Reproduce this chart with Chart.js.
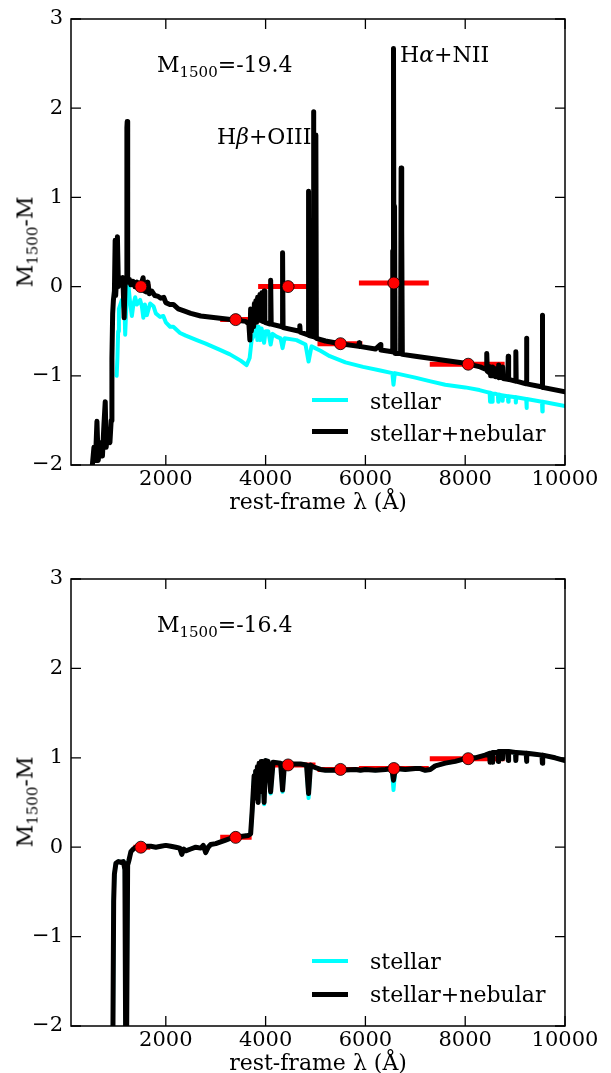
<!DOCTYPE html>
<html><head><meta charset="utf-8">
<script src="https://cdn.jsdelivr.net/npm/chart.js@4.4.1/dist/chart.umd.min.js"></script>
<style>
html,body{margin:0;padding:0;background:#fff;}
#wrap{position:relative;width:611px;height:1073px;overflow:hidden;font-family:"DejaVu Serif",serif;color:#000;}
canvas{position:absolute;left:0;}
.t{position:absolute;white-space:nowrap;font-size:22px;line-height:normal;}
.sub{font-size:15px;position:relative;top:5px;}
.lg{position:absolute;left:312px;width:36px;}
.yl{position:absolute;white-space:nowrap;font-size:22px;line-height:normal;transform:translate(-50%,-50%) rotate(-90deg);}
</style></head><body><div id="wrap">
<canvas id="c1" width="611" height="512" style="top:0px;width:611px;height:512px"></canvas>
<canvas id="c2" width="611" height="561" style="top:512px;width:611px;height:561px"></canvas>

<div class="yl" style="left:25px;top:242px">M<span class="sub">1500</span>-M</div>
<div class="yl" style="left:25px;top:802px">M<span class="sub">1500</span>-M</div>

<div class="t" style="left:157px;top:52px">M<span class="sub">1500</span>=-19.4</div>
<div class="t" style="left:217px;top:124px">H<i>β</i>+OIII</div>
<div class="t" style="left:400px;top:42px">H<i>α</i>+NII</div>
<div class="t" style="left:157px;top:612px">M<span class="sub">1500</span>=-16.4</div>

<div class="lg" style="top:398px;height:4px;background:#00ffff"></div>
<div class="t" style="left:370px;top:389px">stellar</div>
<div class="lg" style="top:429px;height:5px;background:#000"></div>
<div class="t" style="left:370px;top:421px">stellar+nebular</div>

<div class="lg" style="top:959px;height:4px;background:#00ffff"></div>
<div class="t" style="left:370px;top:949px">stellar</div>
<div class="lg" style="top:992px;height:5px;background:#000"></div>
<div class="t" style="left:370px;top:982px">stellar+nebular</div>
</div>
<script>
// ---------- data ----------
const xTickValues = [2000, 4000, 6000, 8000, 10000];
const yTickValues = [-2, -1, 0, 1, 2, 3];

// photometric bands (rest-frame Å)
const bandCenter = [1500, 3400, 4450, 5500, 6570, 8060];
const bandLow    = [1350, 3090, 3850, 5040, 5870, 7290];
const bandHigh   = [1690, 3720, 5000, 5940, 7270, 8790];
const photTop    = [0, -0.37, 0, -0.64, 0.04, -0.87];
const photBottom = [0, 0.11, 0.92, 0.87, 0.88, 0.99];

// top panel, stellar + nebular
const topNebWave = [520,560,590,620,645,690,730,760,786,805,840,880,905,920,935,950,970,985,995,1010,1030,1050,1080,1110,1140,1165,1185,1210,1220,1226,1232,1240,1270,1300,1340,1380,1420,1470,1510,1545,1570,1610,1640,1670,1720,1780,1850,1900,1960,2000,2080,2150,2250,2350,2500,2700,3000,3300,3600,3665,3685,3700,3715,3740,3760,3775,3790,3805,3820,3840,3855,3885,3900,3925,3940,3970,3985,4090,4101,4112,4330,4340,4350,4680,4686,4694,4851,4861,4871,4950,4959,4968,4998,5007,5017,5200,5500,5870,5876,5882,6200,6300,6310,6540,6548,6556,6563,6574,6584,6595,6705,6716,6724,6731,6740,7000,7500,8000,
  8300,8420,8432,8444,8490,8500,8510,8540,8545,8552,8590,8600,8610,8660,8667,8675,8740,8750,8760,8855,8862,8870,9008,9015,9022,9222,9229,9236,9500,9540,9546,9552,10000];
const topNebMag  = [-2.05,-1.8,-1.95,-1.51,-1.95,-1.75,-1.9,-1.55,-1.29,-1.8,-1.6,-1.75,-1.5,-0.8,-0.3,-0.15,-0.05,0.52,-0.1,0.05,0.56,0.0,0.1,0.05,0.1,-0.35,0.05,0.1,1.78,1.85,0.6,0.05,0.08,0.02,0.06,0.0,0.05,0.0,0.03,0.1,-0.05,-0.06,0.05,-0.08,-0.05,-0.1,-0.11,-0.13,-0.12,-0.18,-0.2,-0.2,-0.25,-0.27,-0.3,-0.33,-0.35,-0.37,-0.39,-0.42,-0.6,-0.25,-0.5,-0.3,-0.45,-0.19,-0.4,-0.16,-0.4,-0.12,-0.38,-0.09,-0.38,-0.07,-0.39,-0.05,-0.4,-0.42,0.07,-0.42,-0.45,0.38,-0.46,-0.5,-0.44,-0.51,-0.54,1.07,-0.55,-0.56,1.96,-0.56,-0.57,1.70,-0.58,-0.61,-0.64,-0.67,-0.63,-0.67,-0.7,-0.65,-0.71,-0.73,0.4,-0.7,2.67,-0.74,0.9,-0.75,-0.75,1.33,-0.75,0.63,-0.76,-0.78,-0.82,-0.86,
  -0.9,-0.93,-0.75,-0.95,-0.97,-0.9,-1.0,-0.98,-0.9,-1.0,-0.99,-0.92,-1.01,-1.0,-0.88,-1.02,-1.02,-0.9,-1.03,-1.04,-0.78,-1.04,-1.06,-0.73,-1.06,-1.09,-0.58,-1.09,-1.12,-1.12,-0.32,-1.13,-1.18];

// top panel, stellar only
const topStelWave = [1015,1030,1045,1060,1120,1170,1186,1210,1253,1286,1320,1350,1386,1420,1486,1520,1550,1580,1620,1686,1753,1800,1886,1950,2000,2086,2150,2286,2400,2620,2800,3086,3286,3500,3620,3680,3720,3753,3790,3820,3835,3860,3889,3920,3970,4000,4053,4101,4140,4220,4300,4340,4380,4620,4800,4861,4920,5100,5286,5600,5953,6300,6540,6563,6590,7000,7286,7600,8000,
  8286,8420,8490,8498,8506,8535,8542,8550,8600,8655,8662,8670,8742,8750,8758,8855,8862,8870,9008,9015,9022,9222,9229,9236,9539,9546,9553,10000];
const topStelMag  = [-1.0,-0.8,-0.5,-0.25,-0.15,-0.2,-0.54,-0.2,0.0,-0.19,-0.33,-0.2,-0.12,-0.2,-0.15,-0.22,-0.35,-0.2,-0.32,-0.19,-0.22,-0.3,-0.34,-0.33,-0.4,-0.45,-0.45,-0.52,-0.55,-0.6,-0.64,-0.71,-0.76,-0.83,-0.88,-0.8,-0.6,-0.56,-0.52,-0.45,-0.6,-0.45,-0.6,-0.47,-0.63,-0.5,-0.5,-0.65,-0.53,-0.56,-0.58,-0.69,-0.58,-0.6,-0.65,-0.84,-0.67,-0.72,-0.78,-0.85,-0.9,-0.94,-0.97,-1.1,-0.97,-1.02,-1.06,-1.1,-1.13,
  -1.16,-1.18,-1.19,-1.29,-1.19,-1.2,-1.29,-1.2,-1.2,-1.21,-1.29,-1.21,-1.22,-1.28,-1.22,-1.23,-1.29,-1.23,-1.24,-1.3,-1.24,-1.26,-1.36,-1.26,-1.29,-1.4,-1.29,-1.34];

// bottom panel, stellar + nebular
const botNebWave = [900,940,955,970,1000,1050,1100,1150,1180,1195,1215,1235,1260,1300,1350,1400,1500,1600,1700,1800,1900,2000,2100,2200,2280,2320,2360,2400,2500,2600,2700,2750,2800,2850,2900,3000,3100,3200,3300,3400,3500,3650,3700,3730,3750,3770,3790,3800,3820,3835,3850,3870,3890,3910,3940,3970,4000,4050,4101,4150,4300,4340,4380,4500,4600,4700,4820,4861,4900,4950,5100,5200,5500,5800,5900,6000,6200,6400,6530,6563,6600,6800,7000,7100,7200,7300,7400,7600,7800,8000,8200,8400,
  8490,8498,8506,8535,8542,8550,8655,8662,8670,8742,8750,8758,8855,8862,8870,9008,9015,9022,9222,9229,9236,9400,9539,9546,9553,9800,10000];
const botNebMag  = [-2.1,-2.1,-0.6,-0.3,-0.18,-0.16,-0.17,-0.16,-0.25,-2.1,-2.1,-0.2,-0.15,-0.05,-0.02,0.0,0.0,0.01,0.01,0.0,0.01,0.02,0.01,0.0,-0.01,-0.08,-0.02,-0.04,-0.02,0.0,-0.01,0.02,-0.06,0.0,0.03,0.04,0.06,0.08,0.1,0.11,0.12,0.13,0.15,0.4,0.6,0.8,0.55,0.85,0.6,0.9,0.5,0.94,0.62,0.96,0.96,0.5,0.97,0.96,0.62,0.95,0.94,0.64,0.94,0.93,0.93,0.93,0.92,0.6,0.92,0.9,0.87,0.86,0.86,0.87,0.86,0.87,0.86,0.87,0.88,0.75,0.88,0.87,0.88,0.88,0.86,0.87,0.91,0.94,0.96,0.99,1.0,1.03,
  1.05,0.95,1.05,1.05,0.95,1.06,1.06,0.96,1.07,1.07,0.99,1.07,1.07,0.97,1.07,1.06,0.97,1.06,1.05,0.96,1.05,1.04,1.03,0.94,1.03,1.0,0.97];

// bottom panel, stellar only (deeper Balmer absorption)
const botStelWave = botNebWave;
const botStelMag  = [-2.1,-2.1,-0.6,-0.3,-0.18,-0.16,-0.17,-0.16,-0.25,-2.1,-2.1,-0.2,-0.15,-0.05,-0.02,0.0,0.0,0.01,0.01,0.0,0.01,0.02,0.01,0.0,-0.01,-0.08,-0.02,-0.04,-0.02,0.0,-0.01,0.02,-0.06,0.0,0.03,0.04,0.06,0.08,0.1,0.11,0.12,0.13,0.15,0.4,0.6,0.8,0.55,0.85,0.6,0.9,0.5,0.94,0.62,0.96,0.96,0.48,0.97,0.96,0.6,0.95,0.94,0.62,0.94,0.93,0.93,0.93,0.92,0.55,0.92,0.9,0.87,0.86,0.86,0.87,0.86,0.87,0.86,0.87,0.88,0.64,0.88,0.87,0.88,0.88,0.86,0.87,0.91,0.94,0.96,0.99,1.0,1.03,
  1.05,0.95,1.05,1.05,0.95,1.06,1.06,0.96,1.07,1.07,0.99,1.07,1.07,0.97,1.07,1.06,0.97,1.06,1.05,0.96,1.05,1.04,1.03,0.94,1.03,1.0,0.97];

// ---------- chart helpers ----------
const FONT = '"DejaVu Serif", serif';
function pts(w, m) { return w.map((x, i) => ({x: x, y: m[i]})); }
function bars(phot) {
  const out = [];
  bandCenter.forEach((c, i) => {
    out.push({x: bandLow[i], y: phot[i]});
    out.push({x: bandHigh[i], y: phot[i]});
    out.push({x: bandHigh[i] + 1, y: null});
  });
  return out;
}

const frameTicks = {
  id: 'frameTicks',
  afterDraw(chart) {
    const {ctx, chartArea: a} = chart;
    const xs = chart.scales.x, ys = chart.scales.y;
    ctx.save();
    ctx.strokeStyle = '#000';
    ctx.lineWidth = 1.3;
    ctx.beginPath();
    xs.ticks.forEach(t => {
      const p = xs.getPixelForValue(t.value);
      ctx.moveTo(p, a.bottom); ctx.lineTo(p, a.bottom - 10);
      ctx.moveTo(p, a.top); ctx.lineTo(p, a.top + 10);
    });
    ys.ticks.forEach(t => {
      const p = ys.getPixelForValue(t.value);
      ctx.moveTo(a.left, p); ctx.lineTo(a.left + 10, p);
      ctx.moveTo(a.right, p); ctx.lineTo(a.right - 10, p);
    });
    ctx.stroke();
    ctx.lineWidth = 1.5;
    ctx.strokeRect(a.left, a.top, a.right - a.left, a.bottom - a.top);
    ctx.restore();
  }
};

function makeChart(id, stelW, stelM, nebW, nebM, phot, padTop) {
  return new Chart(document.getElementById(id), {
    type: 'scatter',
    data: {
      datasets: [
        {label: 'stellar', data: pts(stelW, stelM), showLine: true, borderColor: '#00ffff',
         borderWidth: 4, pointRadius: 0, borderJoinStyle: 'round', borderCapStyle: 'round', order: 3, clip: 0},
        {label: 'band', data: bars(phot), showLine: true, spanGaps: false, borderColor: '#ff0000',
         borderWidth: 5, pointRadius: 0, order: 2, clip: 0},
        {label: 'stellar+nebular', data: pts(nebW, nebM), showLine: true, borderColor: '#000000',
         borderWidth: 5, pointRadius: 0, borderJoinStyle: 'round', borderCapStyle: 'round', order: 1, clip: 0},
        {label: 'photometry', data: pts(bandCenter, phot), showLine: false, pointRadius: 6,
         pointBackgroundColor: '#ff0000', pointBorderColor: '#000000', pointBorderWidth: 0.8, order: 0, clip: 0}
      ]
    },
    options: {
      responsive: false, animation: false, devicePixelRatio: 1,
      layout: {padding: {top: padTop, right: 46, left: 0, bottom: 0}},
      plugins: {legend: {display: false}, tooltip: {enabled: false}},
      scales: {
        x: {
          type: 'linear', min: 100, max: 10000,
          afterBuildTicks: s => { s.ticks = xTickValues.map(v => ({value: v})); },
          afterFit: s => { s.height = 47; },
          grid: {display: false}, border: {display: false},
          ticks: {color: '#000', padding: -6, maxRotation: 0, font: {family: FONT, size: 21},
                  callback: v => String(v)},
          title: {display: true, text: 'rest-frame λ (Å)', color: '#000', padding: {top: 0, bottom: -4},
                  font: {family: FONT, size: 22}}
        },
        y: {
          type: 'linear', min: -2, max: 3,
          afterBuildTicks: s => { s.ticks = yTickValues.map(v => ({value: v})); },
          afterFit: s => { s.width = 71; },
          grid: {display: false}, border: {display: false},
          ticks: {color: '#000', padding: 0, font: {family: FONT, size: 21},
                  callback: v => (v < 0 ? '\u2212' : '') + Math.abs(v)}
        }
      }
    },
    plugins: [frameTicks]
  });
}

makeChart('c1', topStelWave, topStelMag, topNebWave, topNebMag, photTop, 19);
makeChart('c2', botStelWave, botStelMag, botNebWave, botNebMag, photBottom, 67);
</script>
</body></html>
